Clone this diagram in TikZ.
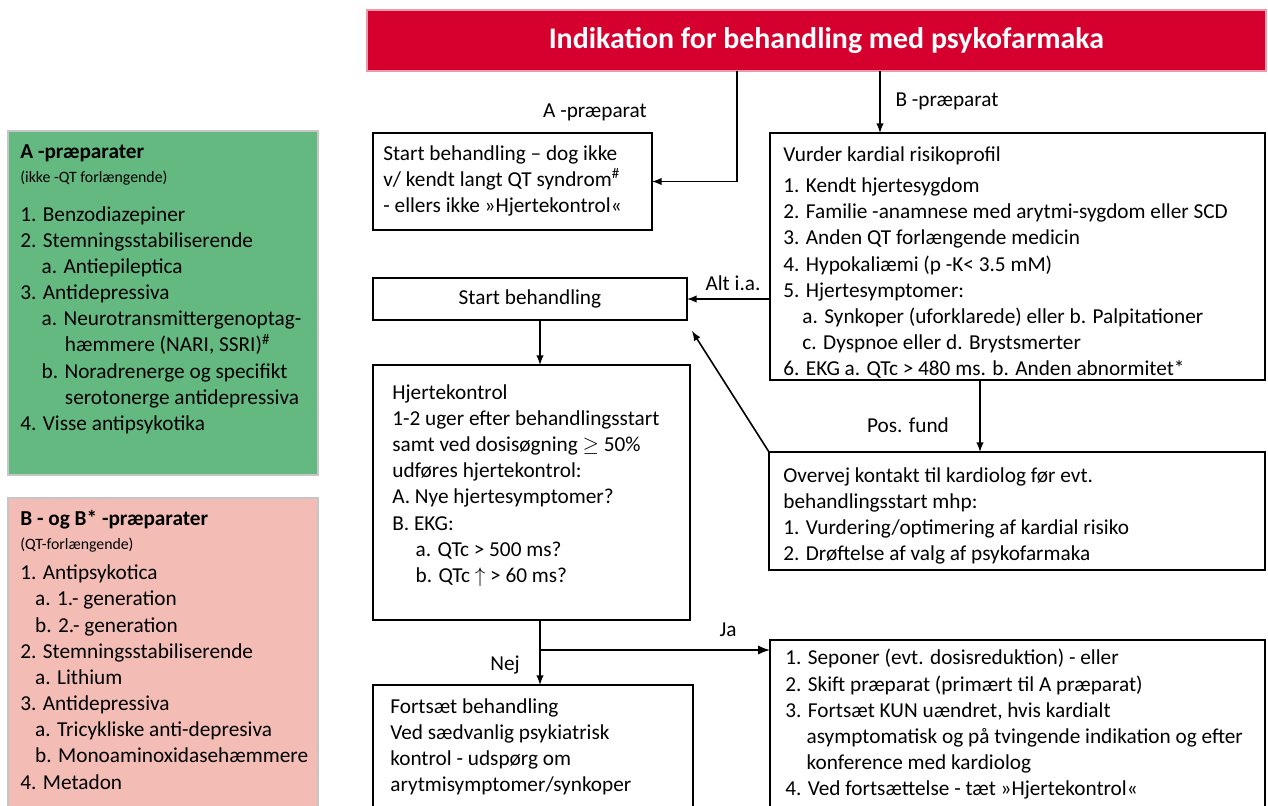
\documentclass[tikz,border=0pt]{standalone}
\usepackage{fontspec}
\setmainfont{Carlito}
\usetikzlibrary{arrows,positioning}
\definecolor{titlered}{RGB}{214,0,47}
\definecolor{agreen}{RGB}{100,185,129}
\definecolor{bpink}{RGB}{243,189,181}

\tikzset{
  box/.style={draw, line width=1.1pt, inner sep=0pt, outer sep=0pt, anchor=north west,
    font=\fontsize{12.1}{14.9}\selectfont},
  listbox/.style={fill=#1, draw=gray!45, line width=0.8pt, inner sep=0pt, outer sep=0pt, anchor=north west},
  txt/.style={inner sep=0pt, anchor=north west, align=left,
    font=\fontsize{12.1}{14.9}\selectfont},
  lbl/.style={inner sep=1pt, font=\fontsize{12.1}{14}\selectfont},
  conn/.style={->, line width=0.9pt}
}
\newcommand{\ind}[1][1em]{\hspace*{#1}}

\begin{document}
\begin{tikzpicture}[>=latex, x=0.02cm, y=-0.02cm]
\useasboundingbox (0,0) rectangle (1268,805);
\clip (0,0) rectangle (1268,805);
% Title bar
\node [box, draw=titlered!40, fill=titlered, text=white, minimum width=17.98cm, minimum height=1.22cm,
  font=\fontsize{17}{20}\selectfont\bfseries] (title) at (367,10) {\hspace*{0.4cm}Indikation for behandling med psykofarmaka};
% Side lists of preparations
\node [listbox=agreen, minimum width=6.2cm, minimum height=6.88cm] (agrp) at (8,131) {};
\node [txt] (agrptxt) at (20,144) {\textbf{A -præparater}\\[-1pt]
  {\fontsize{9}{11}\selectfont (ikke -QT forlængende)}\\[7pt]
  1. Benzodiazepiner\\
  2. Stemningsstabiliserende\\
  \ind a. Antiepileptica\\
  3. Antidepressiva\\
  \ind a. Neurotransmittergenoptag-\\
  \ind[2.1em]hæmmere (NARI, SSRI)\textsuperscript{\#}\\
  \ind b. Noradrenerge og specifikt\\
  \ind[2.1em]serotonerge antidepressiva\\
  4. Visse antipsykotika};
\node [listbox=bpink, minimum width=6.2cm, minimum height=7cm] (bgrp) at (8,498) {};
\node [txt] (bgrptxt) at (20,510) {\textbf{B - og B* -præparater}\\[-1pt]
  {\fontsize{9}{11}\selectfont (QT-forlængende)}\\[2pt]
  1. Antipsykotica\\
  \ind[0.7em]a. 1.- generation\\
  \ind[0.7em]b. 2.- generation\\
  2. Stemningsstabiliserende\\
  \ind[0.7em]a. Lithium\\
  3. Antidepressiva\\
  \ind[0.7em]a. Tricykliske  anti-depresiva\\
  \ind[0.7em]b. Monoaminoxidasehæmmere\\
  4. Metadon};
% Boxes of the flow chart
\node [box, minimum width=5.58cm, minimum height=1.94cm] (startA) at (373,133) {};
\node [txt] (startAtxt) at (383,145) {Start behandling  – dog ikke\\
  v/ kendt langt QT syndrom\textsuperscript{\#}\\
  - ellers ikke »Hjertekontrol«};
\node [box, minimum width=9.9cm, minimum height=4.94cm] (vurder) at (770,133) {};
\node [txt] (vurdertxt) at (783,146) {Vurder kardial risikoprofil\\[3pt]
  1. Kendt hjertesygdom\\
  2. Familie -anamnese  med arytmi-sygdom eller SCD\\
  3. Anden QT forlængende medicin\\
  4. Hypokaliæmi (p -K< 3.5 mM)\\
  5. Hjertesymptomer:\\
  \ind[0.9em]a. Synkoper (uforklarede) eller b. Palpitationer\\
  \ind[0.9em]c. Dyspnoe eller d. Brystsmerter\\
  6. EKG a. QTc > 480 ms. b. Anden abnormitet*};
\node [box, minimum width=6.28cm, minimum height=0.84cm] (startB) at (373,278) {Start behandling};
\node [box, minimum width=6.34cm, minimum height=5.1cm] (hjerte) at (373,365) {};
\node [txt] (hjertetxt) at (392,384) {Hjertekontrol\\
  1-2 uger efter behandlingsstart\\
  samt ved dosisøgning $\geq$ 50\%\\
  udføres hjertekontrol:\\
  A. Nye hjertesymptomer?\\
  B. EKG:\\
  \ind[1.1em]a. QTc > 500 ms?\\
  \ind[1.1em]b. QTc $\uparrow$ > 60 ms?};
\node [box, minimum width=9.92cm, minimum height=2.36cm] (overvej) at (769,452) {};
\node [txt] (overvejtxt) at (783,467) {Overvej kontakt til kardiolog før evt.\\
  behandlingsstart mhp:\\
  1. Vurdering/optimering  af kardial risiko\\
  2. Drøftelse af valg af psykofarmaka};
\node [box, minimum width=9.9cm, minimum height=4cm] (seponer) at (770,640) {};
\node [txt] (seponertxt) at (785,649) {1. Seponer (evt. dosisreduktion) - eller\\
  2. Skift præparat (primært til A præparat)\\
  3. Fortsæt KUN  uændret, hvis kardialt\\
  \ind asymptomatisk og på tvingende indikation og efter\\
  \ind konference med kardiolog\\
  4. Ved fortsættelse - tæt »Hjertekontrol«};
\node [box, minimum width=6.4cm, minimum height=3cm] (fortsaet) at (373,685) {};
\node [txt] (fortsaettxt) at (390,698) {Fortsæt behandling\\
  Ved sædvanlig psykiatrisk\\
  kontrol - udspørg om\\
  arytmisymptomer/synkoper};
% Turning points of the connectors
\coordinate (acol) at (737,0);
\coordinate (bcol) at (880,0);
\coordinate (mcol) at (540,0);
\coordinate (pcol) at (980,0);
\coordinate (ja) at (540,650);
\coordinate (tipB) at (692,331);
% Connectors
\draw [conn] (title.south -| acol) |- (startA.east);
\draw [conn] (title.south -| bcol) -- (vurder.north -| bcol);
\draw [conn] (vurder.west |- startB.east) -- (startB.east);
\draw [conn] (startB.south -| mcol) -- (hjerte.north -| mcol);
\draw [conn] (overvej.north west) -- (tipB);
\draw [conn] (vurder.south -| pcol) -- (overvej.north -| pcol);
\draw [conn] (hjerte.south -| mcol) -- (fortsaet.north -| mcol);
\draw [conn, line width=1.3pt] (ja) -- (seponer.west |- ja);
% Connector labels
\node [lbl] (lblA) at (595,112) {A -præparat};
\node [lbl] (lblB) at (947,101) {B -præparat};
\node [lbl] (lblalt) at (733,283) {Alt i.a.};
\node [lbl] (lblpos) at (908,425) {Pos. fund};
\node [lbl] (lblja) at (728,630) {Ja};
\node [lbl] (lblnej) at (505,665) {Nej};
\end{tikzpicture}
\end{document}
